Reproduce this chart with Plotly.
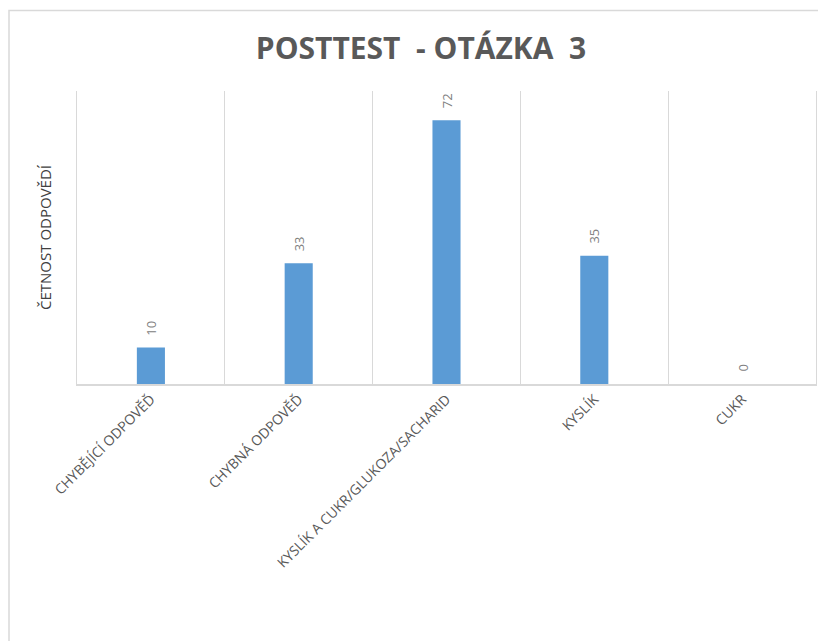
import plotly.graph_objects as go

categories = ["CHYBĚJÍCÍ ODPOVĚĎ", "CHYBNÁ ODPOVĚĎ", "KYSLÍK A CUKR/GLUKOZA/SACHARID", "KYSLÍK", "CUKR"]
values = [10, 33, 72, 35, 0]
title_text = "POSTTEST  - OTÁZKA  3"
y_title = "ČETNOST ODPOVĚDÍ"

# page has an 8px body margin, so the figure is drawn 8px in from the window edge
OFF = 8
W, H = 826 - OFF, 641 - OFF
L, R, T, B = 77 - OFF, 10, 91 - OFF, H - (384 - OFF)
pw, ph = W - L - R, H - T - B

fig = go.Figure()
fig.add_trace(go.Bar(
    x=categories, y=values,
    marker=dict(color="#5b9bd5", line=dict(width=0)),
    cliponaxis=False,
    width=0.19,
))

# data labels, rotated, slightly above each bar
for c, v in zip(categories, values):
    fig.add_annotation(x=c, y=v, xref="x", yref="y", text=str(v), showarrow=False,
                       textangle=-90, yanchor="bottom", xanchor="center", yshift=10,
                       font=dict(family="Open Sans", size=13, color="#808080"))


def px_x(p):
    return (p - OFF - L) / pw


def px_y(p):
    return (H - B - (p - OFF)) / ph


# outer chart border
fig.add_shape(type="rect", xref="paper", yref="paper",
              x0=px_x(9), x1=px_x(900), y0=px_y(700), y1=px_y(10.5),
              line=dict(color="#d9d9d9", width=1.5), fillcolor="rgba(0,0,0,0)", layer="below")

fig.update_layout(
    width=W, height=H,
    margin=dict(l=L, r=R, t=T, b=B, pad=0),
    paper_bgcolor="white", plot_bgcolor="white",
    showlegend=False,
    title=dict(text="<b>" + title_text + "</b>", x=(421 - OFF) / W, xanchor="center",
               y=1 - (48 - OFF) / H, yanchor="middle",
               font=dict(family="Open Sans", size=30, color="#595959")),
    xaxis=dict(
        type="category", tickson="boundaries", showgrid=True, gridcolor="#d9d9d9", gridwidth=1,
        showline=True, linecolor="#d9d9d9", linewidth=1.5,
        ticks="", tickangle=-45,
        tickfont=dict(family="Open Sans", size=14, color="#595959"),
        range=[-0.5, 4.5],
    ),
    yaxis=dict(
        range=[0, 80], showgrid=False, zeroline=False, showticklabels=False,
        showline=True, mirror=True, linecolor="#d9d9d9", linewidth=1,
        title=dict(text=y_title, font=dict(family="Open Sans", size=15, color="#404040"), standoff=20),
    ),
)

fig.write_html("out.html")
